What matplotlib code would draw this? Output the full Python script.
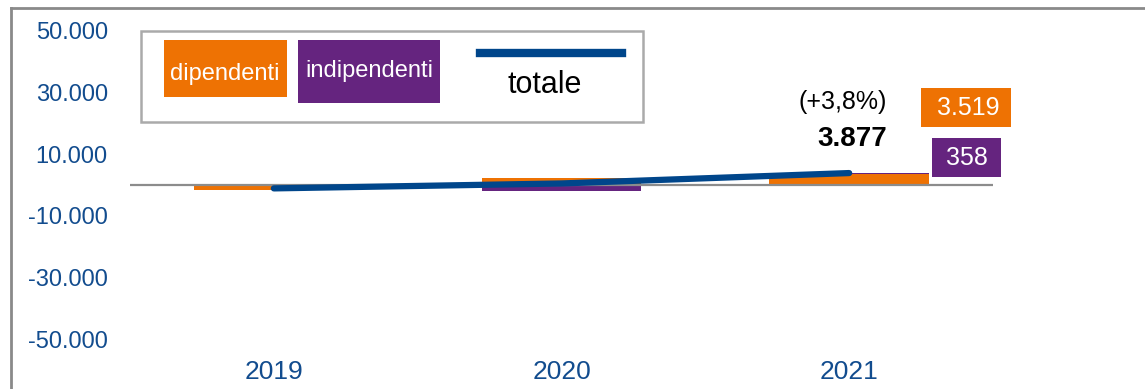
import matplotlib
matplotlib.use("Agg")
import matplotlib.pyplot as plt
from matplotlib.patches import Rectangle
from matplotlib.lines import Line2D
import numpy as np

plt.rcParams['font.family'] = ['Liberation Sans', 'DejaVu Sans']

# data
anni = ['2019', '2020', '2021']
dipendenti = [-1600, 2300, 3519]
indipendenti = [200, -1800, 358]
totale = [-1100, 500, 3877]
var_2021 = '(+3,8%)'
y_ticks = [50000, 30000, 10000, -10000, -30000, -50000]

ORANGE = '#EE7203'
PURPLE = '#65247F'
BLUE = '#00468B'
TICK = '#124C8E'
W, H = 1145, 389


def fmt(v):
    return f"{v:,}".replace(",", ".")


def px_rect(fig, x0, y0, x1, y1, **kw):
    # rectangle given in pixel coords (origin top-left)
    r = Rectangle((x0 / W, 1 - y1 / H), (x1 - x0) / W, (y1 - y0) / H,
                  transform=fig.transFigure, **kw)
    fig.add_artist(r)
    return r


def px_text(fig, x, y, s, **kw):
    fig.text(x / W, 1 - y / H, s, ha='center', va='center', **kw)


fig = plt.figure(figsize=(W / 100, H / 100), dpi=100)
ax = fig.add_axes([130 / W, 1 - 339 / H, 863 / W, 308 / H])

x = np.arange(len(anni))
width = 0.556

# stacked bars: positives above zero, negatives below
pos_base = np.zeros(len(anni))
neg_base = np.zeros(len(anni))
for vals, col in [(dipendenti, ORANGE), (indipendenti, PURPLE)]:
    vals = np.array(vals, dtype=float)
    bottoms = np.where(vals >= 0, pos_base, neg_base)
    ax.bar(x, vals, width, bottom=bottoms, color=col, zorder=2)
    pos_base = pos_base + np.where(vals >= 0, vals, 0)
    neg_base = neg_base + np.where(vals < 0, vals, 0)

ax.axhline(0, color='#8C8C8C', lw=1.6, zorder=3)
ax.plot(x, totale, color=BLUE, lw=4.5, solid_capstyle='round', zorder=4)

ax.set_xlim(-0.5, 2.5)
ax.set_ylim(-50000, 50000)
ax.set_yticks(y_ticks)
ax.set_yticklabels([fmt(v) for v in y_ticks])
ax.set_xticks(x)
ax.set_xticklabels(anni)
ax.tick_params(axis='both', length=0, colors=TICK)
ax.tick_params(axis='y', pad=16, labelsize=17)
ax.tick_params(axis='x', pad=15, labelsize=19)
for s in ax.spines.values():
    s.set_visible(False)
ax.patch.set_alpha(0)

# outer frame (left and top edges)
fig.add_artist(Line2D([11 / W, 11 / W], [0, 1 - 8 / H], transform=fig.transFigure,
                      color='#8A8A8A', lw=2))
fig.add_artist(Line2D([11 / W, 1], [1 - 8 / H, 1 - 8 / H], transform=fig.transFigure,
                      color='#8A8A8A', lw=2))

# legend
px_rect(fig, 141, 31, 643, 122, facecolor='white', edgecolor='#AAAAAA', lw=1.8)
px_rect(fig, 164, 40, 287, 97, facecolor=ORANGE, edgecolor='none')
px_text(fig, 225, 74, 'dipendenti', color='white', fontsize=17)
px_rect(fig, 298, 40, 440, 103, facecolor=PURPLE, edgecolor='none')
px_text(fig, 369, 71, 'indipendenti', color='white', fontsize=17)
fig.add_artist(Line2D([480 / W, 622 / W], [1 - 53 / H, 1 - 53 / H],
                      transform=fig.transFigure, color=BLUE, lw=6))
px_text(fig, 545, 85, 'totale', color='black', fontsize=22)

# annotations 2021
px_text(fig, 843, 102, var_2021, color='black', fontsize=18)
px_text(fig, 852, 139, fmt(totale[2]), color='black', fontsize=20, fontweight='bold')
px_rect(fig, 921, 88, 1011, 127, facecolor=ORANGE, edgecolor='none')
px_text(fig, 968, 108, fmt(dipendenti[2]), color='white', fontsize=18)
px_rect(fig, 932, 138, 1001, 177, facecolor=PURPLE, edgecolor='none')
px_text(fig, 967, 158, fmt(indipendenti[2]), color='white', fontsize=18)

fig.savefig('out.png', dpi=100)
